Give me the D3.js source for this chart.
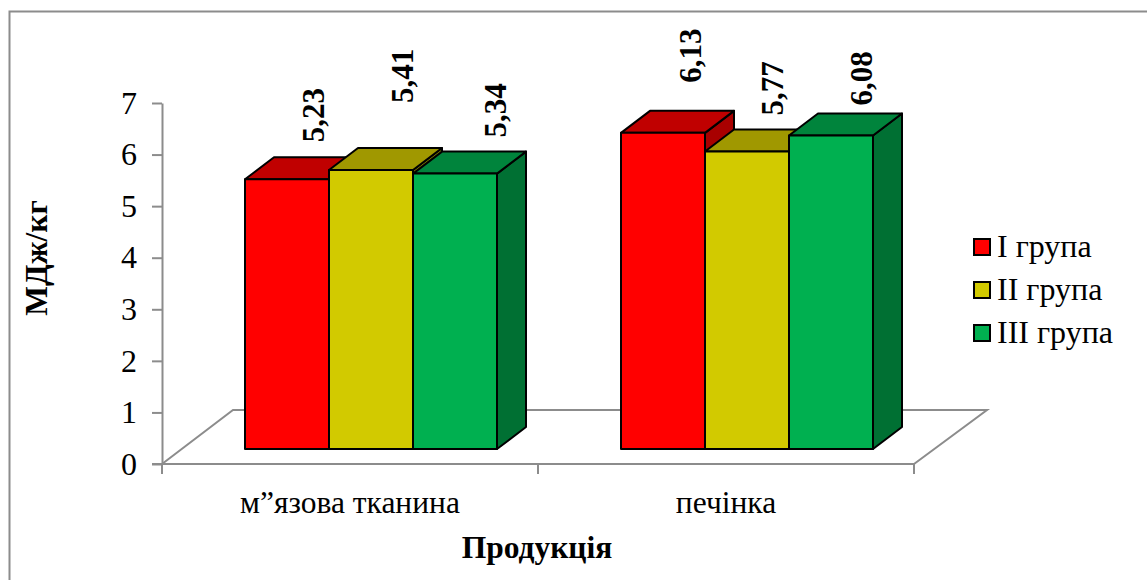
<!DOCTYPE html>
<html>
<head>
<meta charset="utf-8">
<script src="https://cdn.jsdelivr.net/npm/d3@7"></script>
<style>
html, body { margin: 0; padding: 0; background: #fff; }
svg { display: block; }
text { font-family: "Liberation Serif", "Times New Roman", serif; fill: #000; }
</style>
</head>
<body>
<svg id="chart" width="1147" height="580"></svg>
<script>
// Chart values
const products = ["м”язова тканина", "печінка"];
const groups = ["I група", "II група", "III група"];
const muscleValues = [5.23, 5.41, 5.34];
const liverValues = [6.13, 5.77, 6.08];
const valueTicks = [0, 1, 2, 3, 4, 5, 6, 7];

const seriesByProduct = [muscleValues, liverValues];

// Face colours per group: front, top, side
const frontColors = ["#ff0000", "#d2ca00", "#00b050"];
const topColors = ["#c00000", "#a09800", "#00843c"];
const sideColors = ["#a80000", "#8a8300", "#007033"];

// Layout
const axisGrey = "#8c8c8c";
const depthX = 29, depthY = 22;       // bar depth projection
const floorDX = 71, floorDY = 54;     // floor depth projection
const axisLeft = 162, axisRight = 914, axisBase = 464, axisTop = 103;
const barBase = 449;
const barWidth = 84;
const barInset = 83;

// Hand placement of the rotated value labels relative to each bar
const labelShift = [
  [{dx: 27, gap: 37}, {dx: 32, gap: 67}, {dx: 41, gap: 36}],
  [{dx: 28, gap: 50}, {dx: 26, gap: 36}, {dx: 31, gap: 30}]
];

const svg = d3.select("#chart");

const y = d3.scaleLinear().domain([0, 7]).range([axisBase, axisTop]);
const x = d3.scaleBand().domain(products).range([axisLeft, axisRight]);
const barHeight = v => y(0) - y(v);

// Outer frame
svg.append("path")
  .attr("d", "M9.5,580V11.5H1147")
  .attr("fill", "none").attr("stroke", axisGrey).attr("stroke-width", 2);

// Floor of the 3D plot
svg.append("path")
  .attr("d", d3.line()([
    [axisLeft, axisBase],
    [axisLeft + floorDX, axisBase - floorDY],
    [axisRight + floorDX + 2, axisBase - floorDY],
    [axisRight, axisBase]
  ]))
  .attr("fill", "none").attr("stroke", axisGrey).attr("stroke-width", 2);

// Value axis
const yAxis = svg.append("g").attr("transform", `translate(${axisLeft},0)`)
  .call(d3.axisLeft(y).tickValues(valueTicks).tickFormat(d3.format("d")).tickSize(10).tickSizeOuter(0).tickPadding(15));
yAxis.select(".domain").attr("stroke", axisGrey).attr("stroke-width", 2);
yAxis.selectAll(".tick line").attr("stroke", axisGrey).attr("stroke-width", 2);
yAxis.selectAll(".tick text")
  .style("font-family", '"Liberation Serif", serif')
  .attr("font-size", 32).attr("fill", "#000");

// Category axis
svg.append("line")
  .attr("x1", axisLeft - 10).attr("x2", axisRight)
  .attr("y1", axisBase).attr("y2", axisBase)
  .attr("stroke", axisGrey).attr("stroke-width", 2);
svg.selectAll("line.xtick")
  .data([axisLeft, ...products.map(p => x(p) + x.bandwidth())])
  .join("line").attr("class", "xtick")
  .attr("x1", d => d).attr("x2", d => d)
  .attr("y1", axisBase).attr("y2", axisBase + 10)
  .attr("stroke", axisGrey).attr("stroke-width", 2);
svg.selectAll("text.cat")
  .data(products)
  .join("text").attr("class", "cat")
  .attr("x", p => x(p) + x.bandwidth() / 2)
  .attr("y", axisBase + 49)
  .attr("text-anchor", "middle")
  .attr("font-size", 31.5)
  .text(p => p);

// Bars, painted left to right so nearer neighbours overlap correctly
const poly = pts => d3.line()(pts) + "Z";

products.forEach((p, pi) => {
  const start = x(p) + barInset;
  seriesByProduct[pi].forEach((v, gi) => {
    const x0 = start + gi * barWidth;
    const x1 = x0 + barWidth;
    const top = barBase - barHeight(v);
    const faces = [
      { pts: [[x1, barBase], [x1 + depthX, barBase - depthY], [x1 + depthX, top - depthY], [x1, top]], fill: sideColors[gi] },
      { pts: [[x0, top], [x0 + depthX, top - depthY], [x1 + depthX, top - depthY], [x1, top]], fill: topColors[gi] },
      { pts: [[x0, barBase], [x0, top], [x1, top], [x1, barBase]], fill: frontColors[gi] }
    ];
    svg.append("g").selectAll("path").data(faces).join("path")
      .attr("d", f => poly(f.pts))
      .attr("fill", f => f.fill)
      .attr("stroke", "#000")
      .attr("stroke-width", 2)
      .attr("stroke-linejoin", "round");
  });
});

// Rotated value labels
products.forEach((p, pi) => {
  const start = x(p) + barInset;
  seriesByProduct[pi].forEach((v, gi) => {
    const shift = labelShift[pi][gi];
    const cx = start + gi * barWidth + barWidth / 2 + shift.dx;
    const by = barBase - barHeight(v) - shift.gap;
    svg.append("text")
      .attr("transform", `translate(${cx},${by}) rotate(-90)`)
      .attr("dy", "0.33em")
      .attr("font-size", 31)
      .attr("font-weight", "bold")
      .text(d3.format(".2f")(v).replace(".", ","));
  });
});

// Axis titles
svg.append("text")
  .attr("transform", "translate(37,258) rotate(-90)")
  .attr("dy", "0.33em")
  .attr("text-anchor", "middle")
  .attr("font-size", 31.5)
  .attr("font-weight", "bold")
  .text("МДж/кг");
svg.append("text")
  .attr("x", 537).attr("y", 558)
  .attr("text-anchor", "middle")
  .attr("font-size", 31.5)
  .attr("font-weight", "bold")
  .text("Продукція");

// Legend
const legend = svg.append("g").selectAll("g").data(groups).join("g")
  .attr("transform", (d, i) => `translate(974,${239 + i * 43})`);
legend.append("rect")
  .attr("width", 16).attr("height", 16)
  .attr("fill", (d, i) => frontColors[i])
  .attr("stroke", "#000").attr("stroke-width", 2);
legend.append("text")
  .attr("x", 23).attr("y", 18)
  .attr("font-size", 32)
  .text(d => d);
</script>
</body>
</html>
